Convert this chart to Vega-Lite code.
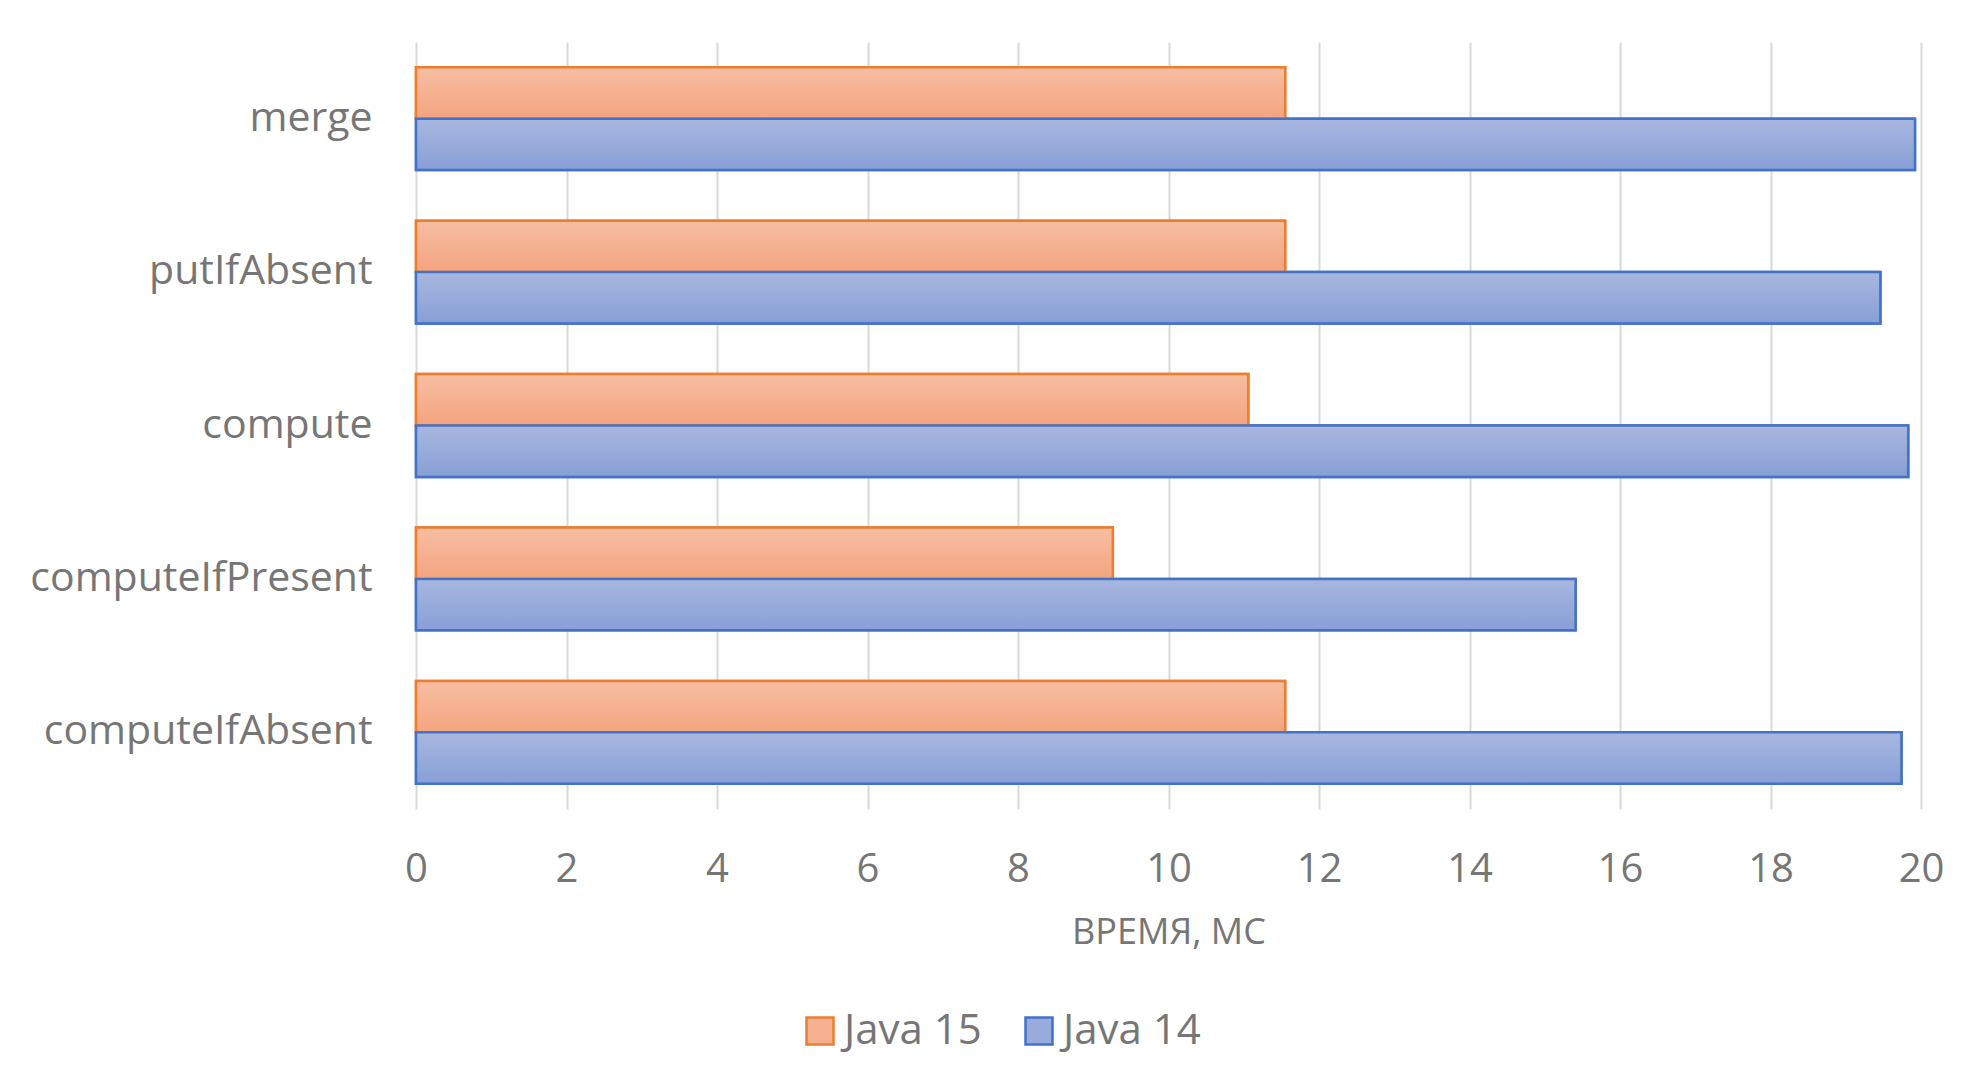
{
  "$schema": "https://vega.github.io/schema/vega-lite/v6.json",
  "autosize": {"type": "none"},
  "padding": {"left": 416, "top": 42, "right": 43, "bottom": 270},
  "width": 1505,
  "height": 767,
  "background": "white",
  "config": {"view": {"stroke": null}, "font": "Open Sans"},
  "data": {
    "values": [
      {"method": "merge", "series": "Java 15", "time": 11.55},
      {"method": "merge", "series": "Java 14", "time": 19.92},
      {"method": "putIfAbsent", "series": "Java 15", "time": 11.55},
      {"method": "putIfAbsent", "series": "Java 14", "time": 19.46},
      {"method": "compute", "series": "Java 15", "time": 11.06},
      {"method": "compute", "series": "Java 14", "time": 19.83},
      {"method": "computeIfPresent", "series": "Java 15", "time": 9.26},
      {"method": "computeIfPresent", "series": "Java 14", "time": 15.41},
      {"method": "computeIfAbsent", "series": "Java 15", "time": 11.55},
      {"method": "computeIfAbsent", "series": "Java 14", "time": 19.74}
    ]
  },
  "encoding": {
    "y": {
      "field": "method",
      "type": "nominal",
      "sort": ["merge", "putIfAbsent", "compute", "computeIfPresent", "computeIfAbsent"],
      "scale": {"paddingInner": 0.33, "paddingOuter": 0.165},
      "axis": {
        "title": null,
        "domain": false,
        "ticks": false,
        "labelFontSize": 41,
        "labelColor": "#767676",
        "labelPadding": 44,
        "labelLimit": 500
      }
    },
    "yOffset": {
      "field": "series",
      "type": "nominal",
      "sort": ["Java 15", "Java 14"],
      "scale": {"paddingInner": 0, "paddingOuter": 0}
    },
    "x": {
      "field": "time",
      "type": "quantitative",
      "scale": {"domain": [0, 20], "nice": false},
      "axis": {
        "title": "ВРЕМЯ, МС",
        "titleFontSize": 36,
        "titleFontWeight": "normal",
        "titleColor": "#767676",
        "titlePadding": 26,
        "values": [0, 2, 4, 6, 8, 10, 12, 14, 16, 18, 20],
        "domain": false,
        "ticks": false,
        "grid": true,
        "gridColor": "#d9d9d9",
        "gridWidth": 2,
        "labelFontSize": 40,
        "labelColor": "#767676",
        "labelPadding": 40,
        "labelFlush": false
      }
    },
    "stroke": {
      "field": "series",
      "type": "nominal",
      "sort": ["Java 15", "Java 14"],
      "scale": {"domain": ["Java 15", "Java 14"], "range": ["#ed7d31", "#4472c4"]},
      "legend": {
        "title": null,
        "orient": "none",
        "legendX": 383,
        "legendY": 968,
        "padding": 0,
        "direction": "horizontal",
        "labelFontSize": 42,
        "labelColor": "#767676",
        "symbolType": "square",
        "symbolSize": 729,
        "symbolStrokeWidth": 2.5,
        "columnPadding": 36,
        "labelOffset": 3
      }
    }
  },
  "layer": [
    {
      "mark": {"type": "bar", "strokeWidth": 2.5},
      "encoding": {
        "fill": {
          "field": "series",
          "type": "nominal",
          "sort": ["Java 15", "Java 14"],
          "scale": {"domain": ["Java 15", "Java 14"], "range": ["#f5b191", "#98abdc"]},
          "legend": {
            "title": null,
            "orient": "none",
            "legendX": 383,
            "legendY": 968,
            "padding": 0,
            "direction": "horizontal",
            "labelFontSize": 42,
            "labelColor": "#767676",
            "symbolType": "square",
            "symbolSize": 729,
            "symbolStrokeWidth": 2.5,
            "columnPadding": 36,
            "labelOffset": 3
          }
        }
      }
    },
    {
      "mark": {"type": "bar", "strokeWidth": 2.5},
      "encoding": {
        "fill": {
          "condition": {
            "test": "datum.series === 'Java 15'",
            "value": {"gradient": "linear", "x1": 0, "y1": 0, "x2": 0, "y2": 1, "stops": [{"offset": 0, "color": "#f7bea2"}, {"offset": 1, "color": "#f4a480"}]}
          },
          "value": {"gradient": "linear", "x1": 0, "y1": 0, "x2": 0, "y2": 1, "stops": [{"offset": 0, "color": "#a8b7e0"}, {"offset": 1, "color": "#889fd6"}]}
        }
      }
    }
  ]
}
